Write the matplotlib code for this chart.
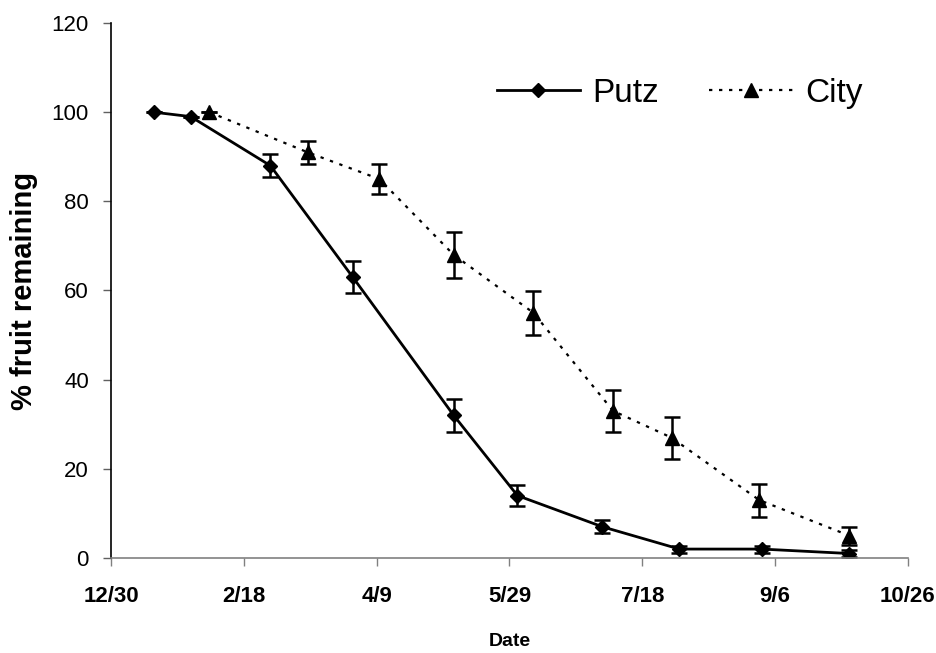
import matplotlib
matplotlib.use("Agg")
import matplotlib.pyplot as plt
from matplotlib.lines import Line2D

# Data (days after 12/30)
putz_days = [16, 30, 60, 91, 129, 153, 185, 214, 245, 278]
putz_vals = [100, 99, 88, 63, 32, 14, 7, 2, 2, 1]
putz_err = [0, 0, 2.6, 3.6, 3.7, 2.3, 1.5, 0.8, 0.8, 0.8]

city_days = [37, 74, 101, 129, 159, 189, 211, 244, 278]
city_vals = [100, 91, 85, 68, 55, 33, 27, 13, 5]
city_err = [0, 2.6, 3.4, 5.1, 4.9, 4.7, 4.7, 3.7, 2.0]

xtick_pos = [0, 50, 100, 150, 200, 250, 300]
xtick_labels = ["12/30", "2/18", "4/9", "5/29", "7/18", "9/6", "10/26"]
ytick_pos = [0, 20, 40, 60, 80, 100, 120]

plt.rcParams['font.family'] = ['Liberation Sans', 'DejaVu Sans']

fig = plt.figure(figsize=(9.36, 6.53), dpi=100)
ax = fig.add_axes([0.1186, 0.1455, 0.8514, 0.8193])

ax.errorbar(putz_days, putz_vals, yerr=putz_err, color='black', lw=2.0,
            marker='D', markersize=7, capsize=6, elinewidth=1.8, capthick=1.8)
ax.errorbar(city_days, city_vals, yerr=city_err, color='black', lw=1.6,
            linestyle=(0, (1.5, 3)), marker='^', markersize=10, capsize=6,
            elinewidth=1.8, capthick=1.8)

ax.set_xlim(0, 300)
ax.set_ylim(0, 120)
ax.set_xticks(xtick_pos)
ax.set_xticklabels(xtick_labels, fontsize=16, fontweight='bold')
ax.set_yticks(ytick_pos)
ax.set_yticklabels([str(v) for v in ytick_pos], fontsize=16)
ax.tick_params(axis='both', direction='out', length=6, width=1)
ax.tick_params(axis='x', pad=14, colors='#808080', labelcolor='black')
ax.tick_params(axis='y', pad=10, colors='#606060', labelcolor='black')

for s in ['top', 'right']:
    ax.spines[s].set_visible(False)
ax.spines['left'].set_linewidth(1.2)
ax.spines['bottom'].set_color('#808080')
ax.spines['bottom'].set_linewidth(1.2)

ax.set_xlabel("Date", fontsize=14, fontweight='bold', labelpad=19)
ax.set_ylabel("% fruit remaining", fontsize=21, fontweight='bold', labelpad=10)

h_putz = Line2D([], [], color='black', lw=2.0, marker='D', markersize=7)
h_city = Line2D([], [], color='black', lw=1.6, linestyle=(0, (1.5, 3)),
                marker='^', markersize=10)
ax.legend([h_putz, h_city], ['Putz', 'City'], loc='center left',
          bbox_to_anchor=(0.484, 0.868), ncol=2, frameon=False, fontsize=24,
          handlelength=2.5, columnspacing=1.5, handletextpad=0.38,
          borderaxespad=0, borderpad=0)

fig.savefig("out.png", dpi=100)
